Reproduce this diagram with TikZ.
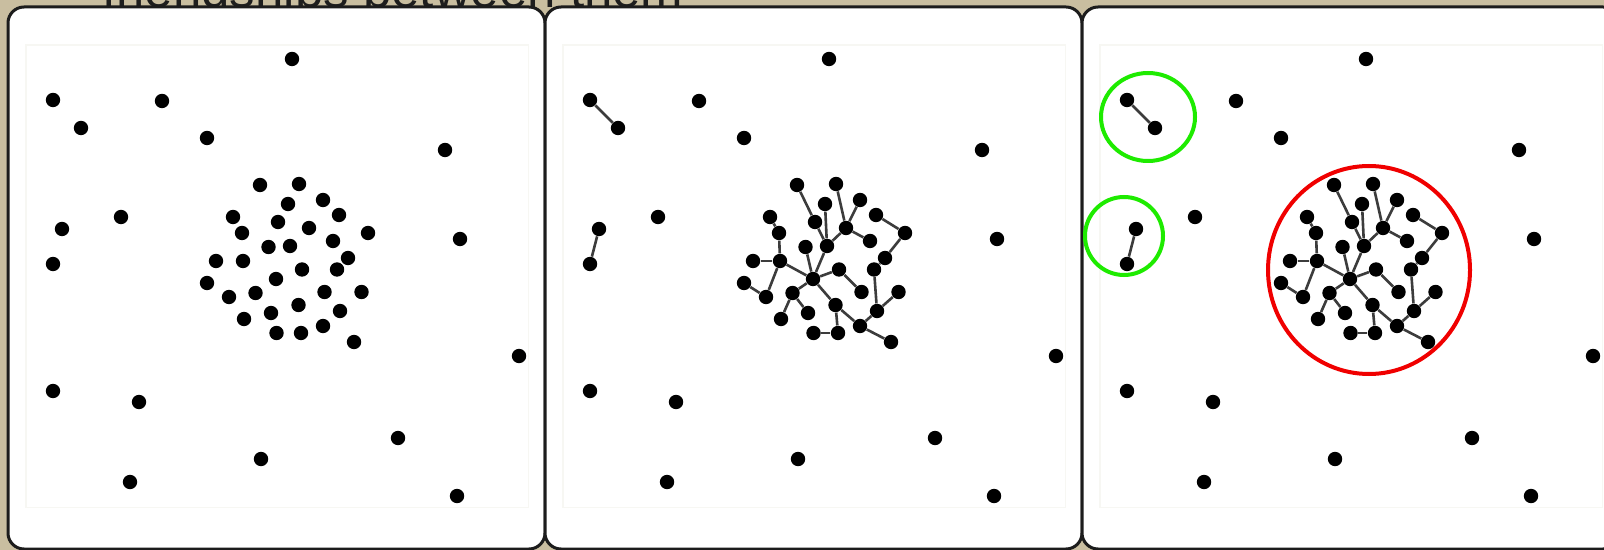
\documentclass[tikz,border=0pt]{standalone}
\usepackage{fontspec}
\newfontfamily\headfont{Liberation Sans}
\definecolor{FrameTan}{RGB}{201,190,160}
\definecolor{FrameDark}{RGB}{28,28,28}
\definecolor{LinkGray}{RGB}{60,60,60}
\definecolor{CanvasLine}{RGB}{247,247,243}
\definecolor{RingGreen}{RGB}{30,235,0}
\definecolor{RingRed}{RGB}{240,0,0}
\definecolor{HeadGray}{RGB}{30,30,30}
\usetikzlibrary{positioning}

% people: name/x/y inside one panel
\newcommand{\dotlist}{s0/292/59, pa/53/100, pb/81/128, s1/162/101, s2/207/138, s3/445/150,
  s4/121/217, qa/62/229, qb/53/264, s5/460/239, s6/519/356, s7/53/391, s8/139/402,
  s9/398/438, s10/261/459, s11/130/482, s12/457/496,
  a/260/185, b/299/184, c/323/200, d/288/204, e/233/217, f/339/215, g/278/222,
  h/309/228, i/242/233, j/368/233, k/333/241, l/268.5/247, m/290/246, n/216/261,
  o/243/261, p/348/258, q/302/269.5, r/337/269.5, hub/276/279, t/207/283,
  u/324.5/292, v/361.5/292, w/255.5/293, x/229/297, y/298.5/305, z/340/311,
  A/271/313, B/244/319, C/323/326, D/276.5/333, E/301/333, F/354/342}
% friendships
\newcommand{\linklist}{pa/pb, qa/qb, a/g, b/h, c/h, d/m, g/m, h/m, h/k, f/j, j/p, p/r,
  r/z, z/v, z/C, m/hub, l/hub, q/hub, q/u, e/i, i/o, n/o, o/hub, o/x, t/x, hub/w,
  w/B, w/A, hub/y, y/E, D/E, y/C, C/F}

\begin{document}
\begin{tikzpicture}[x=0.5pt,y=-0.5pt,
  dot/.style={circle,fill=black,inner sep=0pt,minimum size=7.2pt},
  link/.style={draw=LinkGray,line width=1.3pt},
  panelbox/.style={fill=white,draw=FrameDark,line width=1.5pt,rounded corners=8pt},
  canvasbox/.style={draw=CanvasLine,line width=0.8pt},
  ring/.style={line width=2pt}]
  \useasboundingbox (0,0) rectangle (1604,550);
  \clip (0,0) rectangle (1604,550);
  \fill[FrameTan] (0,0) rectangle (1604,550);
  \node[font=\headfont\fontsize{25.5}{30}\selectfont,text=HeadGray,anchor=base west,inner sep=0pt]
    (head) at (102,8) {friendships between them};

  \foreach \pn in {0,1,2} {
    \draw[panelbox] (8+537*\pn,7) rectangle ++(537,542);
    \draw[canvasbox] (26+537*\pn,45) rectangle ++(502.5,462.5);
    \foreach \n/\x/\y in \dotlist
      \node[dot] (\n-\pn) at (\x+537*\pn,\y) {};
  }
  % links only in the 2nd and 3rd panel
  \foreach \pn in {1,2}
    \foreach \u/\v in \linklist
      \draw[link] (\u-\pn) -- (\v-\pn);

  % groups
  \draw[ring,RingGreen] (1148,117) ellipse [x radius=23.5pt,y radius=22pt];
  \draw[ring,RingGreen] (1124,236) ellipse [x radius=19.5pt,y radius=19.5pt];
  \draw[ring,RingRed] (1369,270) ellipse [x radius=50.5pt,y radius=52pt];
\end{tikzpicture}
\end{document}
